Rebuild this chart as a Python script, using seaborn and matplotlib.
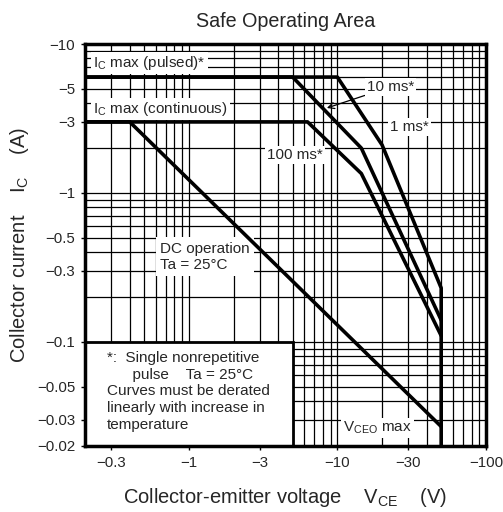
import pandas as pd
import seaborn as sns
import matplotlib.pyplot as plt
from matplotlib.patches import Rectangle

# chart values (negative, as printed on the datasheet)
v_dc = [-0.2, -0.4, -50]
i_dc = [-3, -3, -0.027]
v_100ms = [-0.2, -6.3, -14.5, -50]
i_100ms = [-3, -3, -1.35, -0.11]
v_10ms = [-0.2, -5, -14.5, -50]
i_10ms = [-6, -6, -2.0, -0.14]
v_1ms = [-0.2, -10, -20, -50, -50]
i_1ms = [-6, -6, -2.1, -0.23, -0.02]

x_labels = [-0.3, -1, -3, -10, -30, -100]
y_labels = [-10, -5, -3, -1, -0.5, -0.3, -0.1, -0.05, -0.03, -0.02]

curves = {'DC': (v_dc, i_dc), '100ms': (v_100ms, i_100ms),
          '10ms': (v_10ms, i_10ms), '1ms': (v_1ms, i_1ms)}
rows = []
for name, (vs, cs) in curves.items():
    for k, (v, c) in enumerate(zip(vs, cs)):
        rows.append({'curve': name, 'order': k, 'V': -v, 'I': -c})
df = pd.DataFrame(rows)

sns.set_style("ticks")
plt.rcParams['font.family'] = ['Liberation Sans', 'DejaVu Sans']
plt.rcParams['mathtext.default'] = 'regular'

fig = plt.figure(figsize=(5.03, 5.12), dpi=100)
ax = fig.add_axes([0.169, 0.129, 0.797, 0.785])
ax.set_xscale('log')
ax.set_yscale('log')
ax.set_xlim(0.2, 100)
ax.set_ylim(0.02, 10)

# grid at every 1..9 step of each decade
xgrid = [m * 10.0 ** e for e in (-1, 0, 1) for m in range(1, 10)]
xgrid = [g for g in xgrid if 0.2 < g <= 100] + [100]
ygrid = [m * 10.0 ** e for e in (-2, -1, 0) for m in range(1, 10)]
ygrid = [g for g in ygrid if 0.02 < g < 10]
ax.set_xticks([-v for v in x_labels])
ax.set_xticklabels([f"\u2212{-v:g}" for v in x_labels])
ax.set_xticks(xgrid, minor=True)
ax.set_yticks([-v for v in y_labels])
ax.set_yticklabels([f"\u2212{-v:g}" for v in y_labels])
ax.set_yticks(ygrid, minor=True)
ax.set_xticklabels([], minor=True)
ax.set_yticklabels([], minor=True)
ax.tick_params(which='major', length=3, width=1, labelsize=10.8, pad=4, color='black')
ax.tick_params(which='minor', length=0)
ax.grid(which='both', color='black', lw=0.9)
ax.set_axisbelow(True)
for s in ax.spines.values():
    s.set_linewidth(2.5)
    s.set_color('black')

sns.lineplot(data=df, x='V', y='I', units='curve', estimator=None, sort=False,
             color='black', lw=2.6, ax=ax, legend=False, zorder=4)
ax.set_xlabel('')
ax.set_ylabel('')

box = dict(facecolor='white', edgecolor='none', pad=1.5)
fs = 11
ax.text(0.226, 7.47, r'I$_{C}$ max (pulsed)*', fontsize=fs, va='center', bbox=box)
ax.text(0.226, 3.67, r'I$_{C}$ max (continuous)', fontsize=fs, va='center', bbox=box)
ax.annotate('10 ms*', xy=(8.5, 3.72), xytext=(15.8, 5.15), fontsize=fs, va='center',
            bbox=box, arrowprops=dict(arrowstyle='->', color='black', lw=0.9,
                                      shrinkA=0, shrinkB=0))
ax.text(22.6, 2.77, '1 ms*', fontsize=fs, va='center', bbox=box)
ax.text(3.35, 1.8, '100 ms*', fontsize=fs, va='center', bbox=box)
ax.text(0.638, 0.372, 'DC operation\nTa = 25\u00b0C', fontsize=fs, va='center',
        linespacing=1.25, bbox=dict(facecolor='white', edgecolor='none', pad=3))
ax.text(10.9, 0.0264, r'V$_{CEO}$ max', fontsize=fs, va='center', bbox=box)

ax.add_patch(Rectangle((0.2, 0.02), 5 - 0.2, 0.1 - 0.02, facecolor='white',
                       edgecolor='black', lw=2, zorder=2.5))
ax.text(0.28, 0.0869, '*:  Single nonrepetitive\n      pulse    Ta = 25\u00b0C\n'
        'Curves must be derated\nlinearly with increase in\ntemperature',
        fontsize=fs, va='top', ha='left', linespacing=1.25, zorder=3)

ax.set_title('Safe Operating Area', fontsize=14.2, pad=12)
fig.text(285.5 / 503, 1 - 503 / 512, r'Collector-emitter voltage    V$_{CE}$    (V)',
         fontsize=14.5, ha='center', va='baseline')
fig.text(20 / 503, 1 - 245 / 512, r'Collector current    I$_{C}$    (A)',
         fontsize=14.5, ha='center', va='center', rotation=90)

plt.savefig('out.png', dpi=100)
